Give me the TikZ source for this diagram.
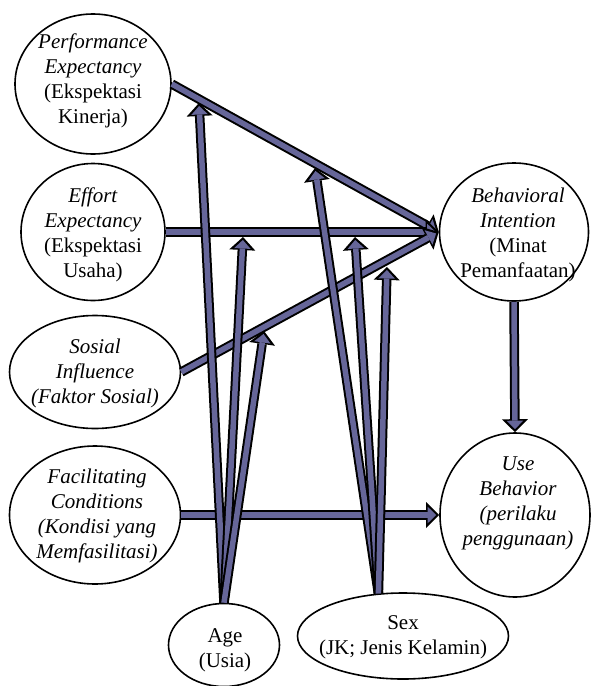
\documentclass[tikz,border=0pt]{standalone}
\usepackage{fontspec}
\setmainfont{Liberation Serif}
\usetikzlibrary{shapes.geometric, arrows.meta}
\definecolor{arrowblue}{RGB}{102,102,153}
\tikzset{
  construct/.style={ellipse, draw, line width=1.6pt, inner sep=0pt},
  lbl/.style={inner sep=0pt, align=center, font=\fontsize{21}{25}\selectfont},
  fatout/.style={draw=black, line width=9.5pt, -{Triangle[length=13pt, width=26pt, line width=0pt]}},
  fatin/.style={draw=arrowblue, line width=5.5pt, shorten >=3pt, -{Triangle[length=8.5pt, width=16.5pt, line width=0pt]}},
}
\newcommand{\fatarrow}[2]{\draw[fatout] (#1) -- (#2); \draw[fatin] (#1) -- (#2);}

\begin{document}
\begin{tikzpicture}[x=1pt, y=-1pt]
    \useasboundingbox (0,0) rectangle (590,686);
    % Constructs
    \node[construct, minimum width=156pt, minimum height=140pt] (pe) at (93,84) {};
    \node[construct, minimum width=144pt, minimum height=137pt] (ee) at (93,232) {};
    \node[construct, minimum width=171pt, minimum height=113pt] (si) at (95,372) {};
    \node[construct, minimum width=171pt, minimum height=138pt] (fc) at (95,515) {};
    \node[construct, minimum width=149pt, minimum height=138pt] (bi) at (514,232) {};
    \node[construct, minimum width=150pt, minimum height=164pt] (ub) at (515,515) {};
    \node[construct, minimum width=111pt, minimum height=83pt] (age) at (224,645) {};
    \node[construct, minimum width=211pt, minimum height=86pt] (sex) at (403,636) {};
    % Texts
    \node[lbl] (pe-l) at (93,81) {\textit{Performance}\\\textit{Expectancy}\\(Ekspektasi\\Kinerja)};
    \node[lbl] (ee-l) at (93,235) {\textit{Effort}\\\textit{Expectancy}\\(Ekspektasi\\Usaha)};
    \node[lbl] (si-l) at (95,373) {\textit{Sosial}\\\textit{Influence}\\\textit{(Faktor Sosial)}};
    \node[lbl] (fc-l) at (97,516) {\textit{Facilitating}\\\textit{Conditions}\\\textit{(Kondisi yang}\\\textit{Memfasilitasi)}};
    \node[lbl] (bi-l) at (518,235) {\textit{Behavioral}\\\textit{Intention}\\(Minat\\Pemanfaatan)};
    \node[lbl] (ub-l) at (518,503) {\textit{Use}\\\textit{Behavior}\\\textit{(perilaku}\\\textit{penggunaan)}};
    \node[lbl] (age-l) at (225,650) {Age\\(Usia)};
    \node[lbl] (sex-l) at (403,637) {Sex\\(JK; Jenis Kelamin)};
    % Direct effects
    \fatarrow{pe.east}{bi.west}
    \fatarrow{ee.east}{bi.west}
    \fatarrow{si.east}{bi.west}
    \fatarrow{fc.east}{ub.west}
    \fatarrow{bi.south}{ub.north}
    % Moderators
    \coordinate (a1) at (199,103);
    \coordinate (a2) at (243,237);
    \coordinate (a3) at (264,331);
    \coordinate (s1) at (315,168);
    \coordinate (s2) at (355,237);
    \coordinate (s3) at (387,267);
    \fatarrow{age.north}{a1}
    \fatarrow{age.north}{a2}
    \fatarrow{age.north}{a3}
    \fatarrow{sex.120}{s1}
    \fatarrow{sex.120}{s2}
    \fatarrow{sex.120}{s3}
\end{tikzpicture}
\end{document}
